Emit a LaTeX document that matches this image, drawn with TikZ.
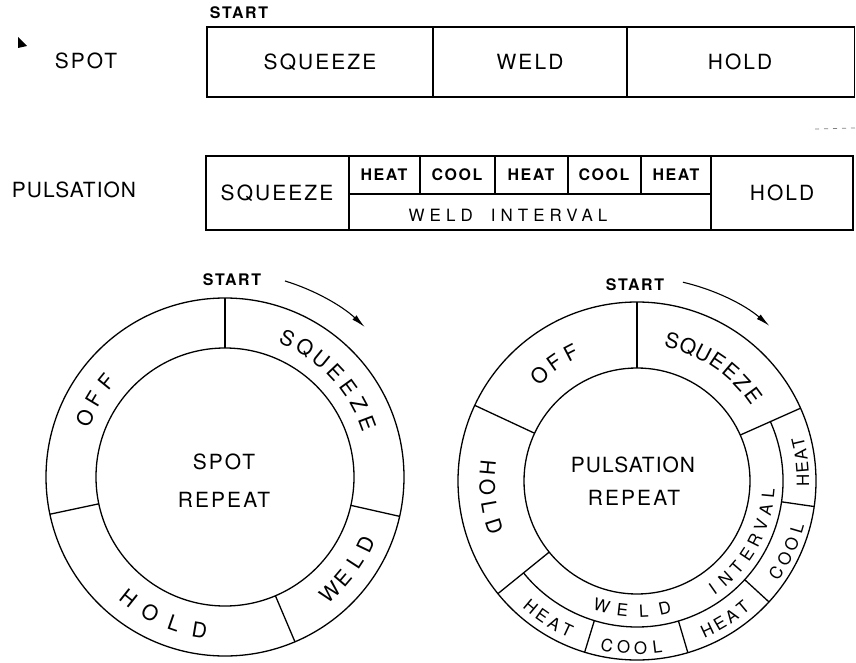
\documentclass[tikz,border=0pt]{standalone}
\usepackage{fontspec}
\newfontfamily\lettering[LetterSpace=10]{TeX Gyre Heros}
\newfontfamily\ringfont{TeX Gyre Heros}
\usetikzlibrary{calc,arrows.meta}

% one word set letter by letter round a ring
\newcommand\ringword[8]{% style, centre, radius, mid angle, step, count, name, letters
  \foreach \ch [count=\k] in {#8}{%
    \pgfmathsetmacro\ang{#4+(\k-(#6+1)/2)*(#5)}%
    \pgfmathsetmacro\rot{\ang+90*sign(#5)}%
    \node[#1, rotate=\rot] (#7\k) at ($(#2)+(\ang:#3bp)$) {\ch};}}

\begin{document}
\begin{tikzpicture}[x=1bp, y=1bp, line width=1.3bp,
    every node/.style={inner sep=0pt},
    big/.style={font=\lettering\fontsize{21}{24}\selectfont, text height=15bp, text depth=0pt},
    ring/.style={font=\ringfont\fontsize{21}{24}\selectfont, text height=15bp, text depth=0pt},
    band/.style={font=\ringfont\fontsize{17}{20}\selectfont, text height=12bp, text depth=0pt},
    cell/.style={font=\lettering\bfseries\fontsize{16}{19}\selectfont, text height=11.5bp, text depth=0pt},
    starttag/.style={font=\lettering\bfseries\fontsize{16}{19}\selectfont},
    turn/.style={line width=1.1bp, -{Latex[length=14bp,width=6bp]}}]
  \useasboundingbox (0,0) rectangle (856,-663);

  % small marks of the scan
  \fill (18,-37) -- (27,-46) -- (18,-48) -- cycle;
  \draw[gray, line width=0.8bp, dash pattern=on 4bp off 5bp] (815,-129) -- (855,-128);

  % spot timing bar
  \node[starttag] (START1) at (239,-13) {START};
  \node[big] (SPOT) at (86,-61) {SPOT};
  \draw (207,-27) rectangle (854.5,-97);
  \draw (433,-27) -- (433,-97);
  \draw (627,-27) -- (627,-97);
  \node[big] (SQ1) at (320,-62) {SQUEEZE};
  \node[big] (WE1) at (530,-62) {WELD};
  \node[big] (HO1) at (740,-62) {HOLD};

  % pulsation timing bar
  \node[big] (PULS) at (74,-190) {\addfontfeature{LetterSpace=5}PULSATION};
  \draw (206,-156) rectangle (853,-230);
  \draw (349,-156) -- (349,-230);
  \draw (711,-156) -- (711,-230);
  \draw (349,-194) -- (711,-194);
  \foreach \x in {420,495,568,641} \draw (\x,-156) -- (\x,-194);
  \node[big] (SQ2) at (277,-193) {SQUEEZE};
  \node[cell] (H1) at (384,-175) {HEAT};
  \node[cell] (C1) at (457,-175) {COOL};
  \node[cell] (H2) at (531,-175) {HEAT};
  \node[cell] (C2) at (604,-175) {COOL};
  \node[cell] (H3) at (676,-175) {HEAT};
  \node[band] (WI) at (508,-215) {\addfontfeature{LetterSpace=30}WELD\hspace{18bp}INTERVAL};
  \node[big] (HO2) at (782,-193) {HOLD};

  % spot repeat wheel
  \coordinate (SC) at (225,-477);
  \draw (SC) circle[radius=179bp];
  \draw (SC) circle[radius=129bp];
  \foreach \a in {90,-12.7,-67,192}
    \draw ($(SC)+(\a:129bp)$) -- ($(SC)+(\a:179bp)$);
  \node[starttag] (START2) at (232,-280) {START};
  \coordinate (SA) at ($(SC)+(73:205bp)$);
  \draw[turn] (SA) arc[start angle=73, end angle=47, radius=205bp];
  \ringword{ring}{SC}{152}{43.3}{-7.5}{7}{ssq}{S,Q,U,E,E,Z,E}
  \ringword{ring}{SC}{152}{149}{-8}{3}{sof}{O,F,F}
  \ringword{ring}{SC}{156}{-36.7}{7.4}{4}{swe}{W,E,L,D}
  \ringword{ring}{SC}{155}{-114}{9.7}{4}{sho}{H,O,L,D}
  \node[big] (SPOTR) at (224,-462) {SPOT};
  \node[big] (REP1) at (224,-500) {REPEAT};

  % pulsation repeat wheel
  \coordinate (PC) at (637,-481);
  \draw (PC) circle[radius=179bp];
  \draw (PC) circle[radius=113bp];
  \draw ($(PC)+(24:146bp)$) arc[start angle=24, end angle=-141, radius=146bp];
  \foreach \a in {90,24,155,219}
    \draw ($(PC)+(\a:113bp)$) -- ($(PC)+(\a:179bp)$);
  \foreach \a in {-8.2,-42.5,-73.5,-107}
    \draw ($(PC)+(\a:146bp)$) -- ($(PC)+(\a:179bp)$);
  \node[starttag] (START3) at (635,-285) {START};
  \coordinate (PA) at ($(PC)+(77:204bp)$);
  \draw[turn] (PA) arc[start angle=77, end angle=49.5, radius=204bp];
  \ringword{ring}{PC}{144}{56}{-6.6}{7}{psq}{S,Q,U,E,E,Z,E}
  \ringword{ring}{PC}{144}{125}{-7.6}{3}{pof}{O,F,F}
  \ringword{ring}{PC}{150}{186.2}{7.6}{4}{pho}{H,O,L,D}
  \ringword{band}{PC}{130}{-91.7}{9.4}{4}{pwe}{W,E,L,D}
  \ringword{band}{PC}{132}{-30.1}{7.1}{8}{pin}{I,N,T,E,R,V,A,L}
  \ringword{band}{PC}{166}{6.8}{4.3}{4}{pha}{H,E,A,T}
  \ringword{band}{PC}{167}{-24.9}{5.7}{4}{pca}{C,O,O,L}
  \ringword{band}{PC}{165}{-57.4}{4.9}{4}{phb}{H,E,A,T}
  \ringword{band}{PC}{167}{-91.7}{5.8}{4}{pcb}{C,O,O,L}
  \ringword{band}{PC}{165}{-122.6}{5.0}{4}{phc}{H,E,A,T}
  \node[big] (PULSR) at (633,-465) {\addfontfeature{LetterSpace=5}PULSATION};
  \node[big] (REP2) at (634,-498) {REPEAT};
\end{tikzpicture}
\end{document}
